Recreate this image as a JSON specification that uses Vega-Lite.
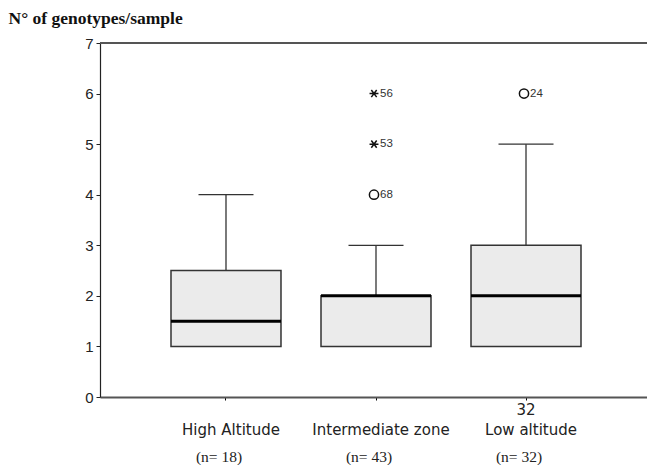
{
  "$schema": "https://vega.github.io/schema/vega-lite/v6.json",
  "autosize": "none",
  "padding": {"left": 100, "top": 43, "right": 0, "bottom": 68},
  "width": 552,
  "height": 354,
  "background": "white",
  "config": {"view": {"stroke": null}, "axis": {"grid": false}},
  "data": {
    "values": [
      {"group": "High Altitude", "lo": 1, "q1": 1, "median": 1.5, "q3": 2.5, "hi": 4, "nlabel": "(n= 18)"},
      {"group": "Intermediate zone", "lo": 1, "q1": 1, "median": 2, "q3": 2, "hi": 3, "nlabel": "(n= 43)"},
      {"group": "Low altitude", "lo": 1, "q1": 1, "median": 2, "q3": 3, "hi": 5, "nlabel": "(n= 32)"}
    ]
  },
  "encoding": {
    "x": {
      "field": "group", "type": "nominal",
      "scale": {"domain": ["High Altitude", "Intermediate zone", "Low altitude"], "paddingInner": 0.2667, "paddingOuter": 0.4733},
      "axis": {
        "title": null, "labelAngle": 0, "labelFont": "DejaVu Sans", "labelFontSize": 15, "labelColor": "#222",
        "domainColor": "#555", "domainWidth": 2, "tickColor": "#000", "tickSize": 3, "labelPadding": 22, "labelOffset": 5
      }
    }
  },
  "layer": [
    {
      "mark": {"type": "rule", "color": "#333", "strokeWidth": 1.3},
      "encoding": {
        "y": {"field": "q3", "type": "quantitative", "scale": {"domain": [0, 7], "nice": false},
          "axis": {
            "title": "N° of genotypes/sample", "titleAngle": 0, "titleAlign": "left", "titleBaseline": "alphabetic",
            "titleX": -92, "titleY": -20, "titleFont": "Liberation Serif", "titleFontSize": 17.5, "titleFontWeight": "bold", "titleColor": "#111",
            "values": [0, 1, 2, 3, 4, 5, 6, 7], "labelFont": "Liberation Sans", "labelFontSize": 15, "labelColor": "#222",
            "domainColor": "#222", "domainWidth": 1.2, "tickColor": "#222", "tickSize": 4, "labelPadding": 3
          }
        },
        "y2": {"field": "hi"}
      }
    },
    {
      "mark": {"type": "rule", "color": "#333", "strokeWidth": 1.3},
      "encoding": {
        "x": {"field": "group", "type": "nominal", "bandPosition": 0.25},
        "x2": {"field": "group", "bandPosition": 0.75},
        "y": {"field": "hi", "type": "quantitative"}
      }
    },
    {
      "mark": {"type": "bar", "fill": "#ebebeb", "stroke": "#333", "strokeWidth": 1.5},
      "encoding": {
        "y": {"field": "q1", "type": "quantitative"},
        "y2": {"field": "q3"}
      }
    },
    {
      "mark": {"type": "rule", "color": "#000", "strokeWidth": 3},
      "encoding": {
        "x": {"field": "group", "type": "nominal", "bandPosition": 0},
        "x2": {"field": "group", "bandPosition": 1},
        "y": {"field": "median", "type": "quantitative"}
      }
    },
    {
      "mark": {"type": "text", "font": "Liberation Serif", "fontSize": 15.5, "color": "#222", "baseline": "middle", "dx": -7},
      "encoding": {
        "y": {"datum": -1.18},
        "text": {"field": "nlabel"}
      }
    },
    {
      "data": {"values": [
        {"group": "Intermediate zone", "value": 6, "case": "56", "kind": "extreme"},
        {"group": "Intermediate zone", "value": 5, "case": "53", "kind": "extreme"},
        {"group": "Intermediate zone", "value": 4, "case": "68", "kind": "outlier"},
        {"group": "Low altitude", "value": 6, "case": "24", "kind": "outlier"}
      ]},
      "layer": [
        {
          "mark": {"type": "point", "filled": false, "stroke": "#111", "strokeWidth": 1.5, "opacity": 1, "xOffset": -2},
          "encoding": {
            "y": {"field": "value", "type": "quantitative"},
            "shape": {"field": "kind", "type": "nominal", "legend": null,
              "scale": {"domain": ["outlier", "extreme"], "range": ["circle", "M-1,0L1,0M-0.6,-0.8L0.6,0.8M-0.6,0.8L0.6,-0.8"]}},
            "size": {"field": "kind", "type": "nominal", "legend": null,
              "scale": {"domain": ["outlier", "extreme"], "range": [85, 80]}}
          }
        },
        {
          "mark": {"type": "text", "align": "left", "baseline": "middle", "dx": 4, "font": "Liberation Sans", "fontSize": 11.5, "color": "#333"},
          "encoding": {
            "y": {"field": "value", "type": "quantitative"},
            "text": {"field": "case"}
          }
        }
      ]
    },
    {
      "data": {"values": [{"group": "Low altitude", "label": "32"}]},
      "mark": {"type": "text", "font": "DejaVu Sans", "fontSize": 15, "color": "#222", "baseline": "middle"},
      "encoding": {
        "y": {"datum": -0.26},
        "text": {"field": "label"}
      }
    },
    {
      "data": {"values": [{}]},
      "mark": {"type": "rule", "color": "#555", "strokeWidth": 2},
      "encoding": {"y": {"datum": 7}, "x": null}
    }
  ]
}
